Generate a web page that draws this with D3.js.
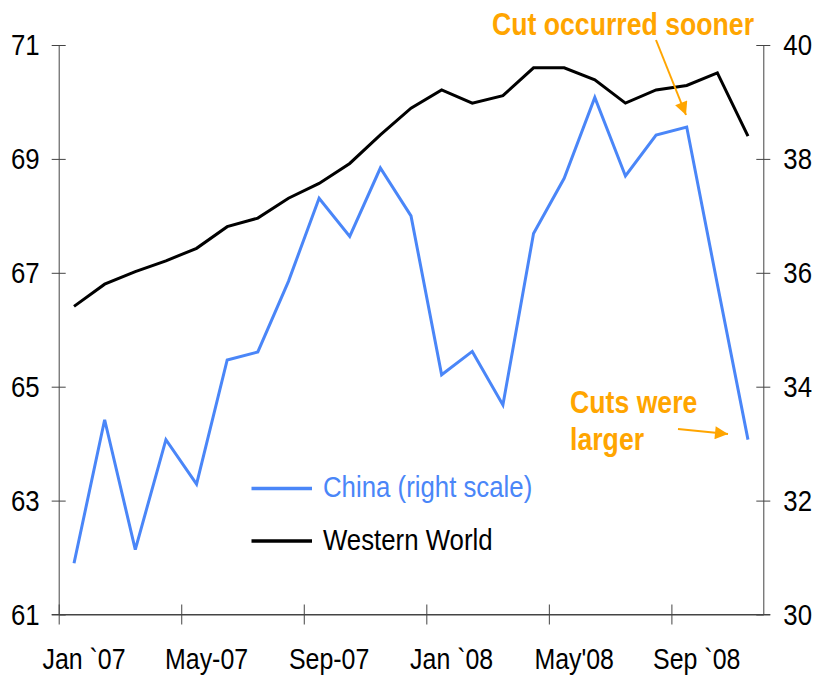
<!DOCTYPE html>
<html>
<head>
<meta charset="utf-8">
<script src="https://cdn.jsdelivr.net/npm/d3@7"></script>
<style>
  body { margin: 0; background: #fff; }
  svg text { font-family: 'Liberation Sans Narrow', 'Arial Narrow', 'Liberation Sans', sans-serif; }
</style>
</head>
<body>
<svg id="chart" width="816" height="677"></svg>
<script>
// months Jan 2007 .. Nov 2008
var months = ["Jan07","Feb07","Mar07","Apr07","May07","Jun07","Jul07","Aug07","Sep07","Oct07","Nov07","Dec07",
              "Jan08","Feb08","Mar08","Apr08","May08","Jun08","Jul08","Aug08","Sep08","Oct08","Nov08"];

// Western World (left scale)
var western = [66.41, 66.80, 67.02, 67.21, 67.43, 67.81, 67.96, 68.31, 68.57, 68.92, 69.42, 69.89,
               70.21, 69.98, 70.11, 70.60, 70.60, 70.39, 69.98, 70.21, 70.29, 70.51, 69.40];

// China (right scale)
var china = [30.90, 33.42, 31.14, 33.07, 32.29, 34.47, 34.61, 35.85, 37.31, 36.64, 37.84, 37.00,
             34.21, 34.62, 33.68, 36.69, 37.66, 39.08, 37.70, 38.42, 38.56, 35.80, 33.07];

var leftTicks = [61, 63, 65, 67, 69, 71];
var rightTicks = [30, 32, 34, 36, 38, 40];
var xTickIdx = [0, 4, 8, 12, 16, 20];
var xTickLabels = ["Jan `07", "May-07", "Sep-07", "Jan `08", "May'08", "Sep `08"];

var svg = d3.select("#chart");
var plotLeft = 58.7, plotRight = 763.3, plotTop = 45, plotBottom = 614.5;
var axisColor = "#444";
var blue = "#4a86f8";
var orange = "#ffa500";

var x = d3.scaleLinear().domain([0, months.length]).range([plotLeft, plotRight]);
var yL = d3.scaleLinear().domain([61, 71]).range([plotBottom, plotTop]);
var yR = d3.scaleLinear().domain([30, 40]).range([plotBottom, plotTop]);
var band = x(1) - x(0);

// left axis
var gL = svg.append("g")
    .attr("transform", "translate(" + plotLeft + ",0)")
    .call(d3.axisLeft(yL).tickValues(leftTicks).tickSize(7).tickSizeOuter(0).tickPadding(12));
gL.selectAll(".tick line").attr("x1", 7).attr("x2", -7);
gL.selectAll("text").style("font-size", "30px").attr("fill", "#000");

// right axis
var gR = svg.append("g")
    .attr("transform", "translate(" + plotRight + ",0)")
    .call(d3.axisRight(yR).tickValues(rightTicks).tickSize(7).tickSizeOuter(0).tickPadding(13));
gR.selectAll(".tick line").attr("x1", -7).attr("x2", 7);
gR.selectAll("text").style("font-size", "30px").attr("fill", "#000");

// bottom axis, ticks between categories
var gB = svg.append("g")
    .attr("transform", "translate(0," + plotBottom + ")")
    .call(d3.axisBottom(x).tickValues(xTickIdx).tickSize(10).tickSizeOuter(0)
        .tickFormat(function(d, i) { return xTickLabels[i]; }));
gB.selectAll(".tick line").attr("y1", -10).attr("y2", 10);
gB.selectAll("text")
    .attr("x", band / 2 + 9.5)
    .attr("y", 34)
    .style("font-size", "29px")
    .attr("fill", "#000");

svg.selectAll(".domain").attr("stroke", axisColor);
svg.selectAll(".tick line").attr("stroke", axisColor);

// bottom axis line extends to the left tick
svg.append("line")
    .attr("x1", plotLeft - 7).attr("x2", plotRight + 7)
    .attr("y1", plotBottom).attr("y2", plotBottom)
    .attr("stroke", axisColor);

// lines
var lineL = d3.line()
    .x(function(d, i) { return x(i + 0.5); })
    .y(function(d) { return yL(d); });
var lineR = d3.line()
    .x(function(d, i) { return x(i + 0.5); })
    .y(function(d) { return yR(d); });

svg.append("path").datum(western)
    .attr("d", lineL).attr("fill", "none")
    .attr("stroke", "#000").attr("stroke-width", 3);
svg.append("path").datum(china)
    .attr("d", lineR).attr("fill", "none")
    .attr("stroke", blue).attr("stroke-width", 3);

// legend
var legend = [{name: "China (right scale)", color: blue, y: 488.5},
              {name: "Western World", color: "#000", y: 541}];
var lg = svg.selectAll(".legend").data(legend).enter().append("g").attr("class", "legend");
lg.append("line")
    .attr("x1", 251.5).attr("x2", 312)
    .attr("y1", function(d) { return d.y; }).attr("y2", function(d) { return d.y; })
    .attr("stroke", function(d) { return d.color; }).attr("stroke-width", 3.5);
lg.append("text")
    .attr("x", 323).attr("y", function(d) { return d.y + 9; })
    .attr("fill", function(d) { return d.color; })
    .style("font-size", "30px")
    .text(function(d) { return d.name; });

// annotations
svg.append("defs").append("marker")
    .attr("id", "arrow").attr("viewBox", "0 0 10 10")
    .attr("refX", 10).attr("refY", 5)
    .attr("markerWidth", 7).attr("markerHeight", 6.5)
    .attr("orient", "auto")
    .append("path").attr("d", "M0,0L10,5L0,10Z").attr("fill", orange);

svg.append("text")
    .attr("x", 623).attr("y", 35)
    .attr("text-anchor", "middle")
    .attr("fill", orange)
    .style("font-size", "31px").style("font-weight", "bold")
    .text("Cut occurred sooner");
svg.append("line")
    .attr("x1", 656).attr("y1", 40).attr("x2", 686).attr("y2", 115)
    .attr("stroke", orange).attr("stroke-width", 2)
    .attr("marker-end", "url(#arrow)");

svg.append("text")
    .attr("x", 570).attr("y", 413)
    .attr("fill", orange)
    .style("font-size", "31px").style("font-weight", "bold")
    .text("Cuts were");
svg.append("text")
    .attr("x", 570).attr("y", 450)
    .attr("fill", orange)
    .style("font-size", "31px").style("font-weight", "bold")
    .text("larger");
svg.append("line")
    .attr("x1", 678).attr("y1", 429).attr("x2", 728).attr("y2", 434)
    .attr("stroke", orange).attr("stroke-width", 2)
    .attr("marker-end", "url(#arrow)");

// the original uses a narrow face; squeeze the regular one around its anchor
svg.selectAll("text").each(function() {
    var ax = +(this.getAttribute("x") || 0);
    d3.select(this).attr("transform",
        "translate(" + ax + ",0) scale(0.86,1) translate(" + (-ax) + ",0)");
});
</script>
</body>
</html>
